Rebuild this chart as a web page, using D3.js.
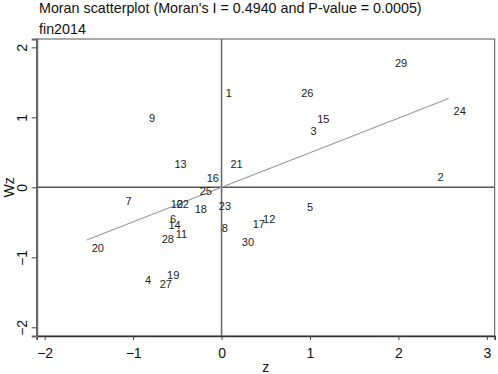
<!DOCTYPE html>
<html>
<head>
<meta charset="utf-8">
<script src="https://cdn.jsdelivr.net/npm/d3@7"></script>
<style>
  body { margin: 0; background: #fff; }
  text { font-family: "Liberation Sans", Arial, sans-serif; }
</style>
</head>
<body>
<svg id="chart" width="498" height="374"></svg>
<script>
// region ids, standardized value z and spatial lag Wz
const ids = [1, 2, 3, 4, 5, 6, 7, 8, 9, 10, 11, 12, 13, 14, 15, 16, 17, 18, 19, 20, 21, 22, 23, 24, 25, 26, 27, 28, 29, 30];
const zVals = [-0.008, 2.386, 0.950, -0.921, 0.908, -0.639, -1.143, -0.054, -0.876, -0.631,
  -0.575, 0.413, -0.589, -0.657, 1.024, -0.224, 0.296, -0.360, -0.673, -1.525,
  0.044, -0.563, -0.088, 2.567, -0.303, 0.843, -0.756, -0.733, 1.903, 0.172];
const wzVals = [1.351, 0.151, 0.809, -1.324, -0.277, -0.457, -0.200, -0.577, 0.994, -0.239,
  -0.671, -0.457, 0.329, -0.539, 0.971, 0.133, -0.524, -0.314, -1.257, -0.867,
  0.329, -0.239, -0.263, 1.090, -0.049, 1.351, -1.381, -0.743, 1.780, -0.777];
const moranI = 0.4940;
const xTicks = [-2, -1, 0, 1, 2, 3];
const yTicks = [-2, -1, 0, 1, 2];

const svg = d3.select('#chart');

const x = d3.scaleLinear().domain([-2.09, 3.088]).range([36.7, 494.7]);
const y = d3.scaleLinear().domain([-2.124, 2.119]).range([336, 39]);

// title
svg.append('text')
    .attr('x', 39)
    .attr('y', 13)
    .attr('font-size', 14.3)
    .attr('fill', '#111')
    .text("Moran scatterplot (Moran's I = 0.4940 and P-value = 0.0005)");
svg.append('text')
    .attr('x', 39)
    .attr('y', 33.5)
    .attr('font-size', 14.3)
    .attr('fill', '#111')
    .text('fin2014');

// plot frame
svg.append('rect')
    .attr('x', x.range()[0])
    .attr('y', y.range()[1])
    .attr('width', x.range()[1] - x.range()[0])
    .attr('height', y.range()[0] - y.range()[1])
    .attr('fill', 'none')
    .attr('stroke', '#555')
    .attr('stroke-width', 1);

// axes
const xAxis = svg.append('g')
    .attr('transform', `translate(0, ${y.range()[0]})`)
    .call(d3.axisBottom(x).tickValues(xTicks).tickSize(4).tickPadding(8.5).tickFormat(d3.format('d')));
const yAxis = svg.append('g')
    .attr('transform', `translate(${x.range()[0]}, 0)`)
    .call(d3.axisLeft(y).tickValues(yTicks).tickSize(5).tickPadding(3).tickFormat(d3.format('d')));

[xAxis, yAxis].forEach(g => {
  g.select('.domain').attr('stroke', '#333').attr('stroke-width', 1.5);
  g.selectAll('.tick line').attr('stroke', '#444');
  g.selectAll('.tick text').attr('font-size', 14).attr('fill', '#111')
      .style('font-family', '"Liberation Sans", Arial, sans-serif');
});
yAxis.select('.domain').attr('stroke', '#666').attr('stroke-width', 2);
yAxis.selectAll('.tick text')
    .attr('text-anchor', 'middle')
    .attr('transform', 'rotate(-90)')
    .attr('x', 0)
    .attr('dy', 0)
    .attr('y', -10);

// axis titles
svg.append('text')
    .attr('x', x(0.5))
    .attr('y', 372)
    .attr('text-anchor', 'middle')
    .attr('font-size', 14)
    .attr('fill', '#111')
    .text('z');
svg.append('text')
    .attr('transform', `translate(14, ${y(0)}) rotate(-90)`)
    .attr('text-anchor', 'middle')
    .attr('font-size', 14)
    .attr('fill', '#111')
    .text('Wz');

// zero reference lines
svg.append('line')
    .attr('x1', x.range()[0]).attr('x2', x.range()[1])
    .attr('y1', y(0)).attr('y2', y(0))
    .attr('stroke', '#555').attr('stroke-width', 1.5);
svg.append('line')
    .attr('x1', x(0)).attr('x2', x(0))
    .attr('y1', y.range()[0]).attr('y2', y.range()[1])
    .attr('stroke', '#666').attr('stroke-width', 1.5);

// fitted line Wz = I * z over the z range
const [zMin, zMax] = d3.extent(zVals);
svg.append('line')
    .attr('x1', x(zMin)).attr('y1', y(moranI * zMin))
    .attr('x2', x(zMax)).attr('y2', y(moranI * zMax))
    .attr('stroke', '#999')
    .attr('stroke-width', 1.2);

// point labels, to the right of each (hidden) marker
svg.append('g')
  .selectAll('text')
  .data(ids)
  .join('text')
    .attr('x', (d, i) => x(zVals[i]) + 5)
    .attr('y', (d, i) => y(wzVals[i]))
    .attr('dy', '0.35em')
    .attr('font-size', 11)
    .attr('fill', '#222')
    .text(d => d);
</script>
</body>
</html>
